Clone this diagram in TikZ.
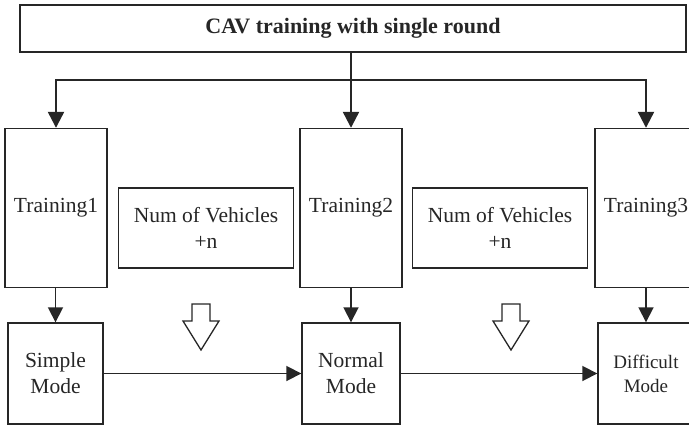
\documentclass[tikz,border=0pt]{standalone}
\usepackage{fontspec}
\setmainfont{Liberation Serif}
\usetikzlibrary{arrows.meta}
\definecolor{ink}{HTML}{262626}
\begin{document}
\begin{tikzpicture}[x=1pt,y=-1pt,
  box/.style={draw=ink, line width=1.4pt, fill=white, inner sep=0pt,
    align=center, text=ink, font=\fontsize{21.5}{26}\selectfont},
  tallbox/.style={box, minimum width=102pt, minimum height=159pt},
  numbox/.style={box, minimum width=175pt, minimum height=80pt},
  modebox/.style={box, minimum width=96pt, minimum height=101pt},
  topconn/.style={-{Triangle[length=16pt,width=16pt]}, line width=2.3pt, draw=ink},
  conn/.style={-{Triangle[length=15pt,width=15pt]}, line width=1.8pt, draw=ink},
  hollow/.style={draw=ink, line width=1.3pt, fill=white, line join=miter}
]
\useasboundingbox (0,0) rectangle (689,428);

% heading
\node[box, minimum width=666pt, minimum height=47pt,
  font=\bfseries\fontsize{22}{26}\selectfont] (title) at (353,28.5)
  {CAV training with single round};

% training stages
\node[tallbox] (t1) at (56,208) {Training1};
\node[tallbox] (t2) at (351,208) {Training2};
\node[tallbox] (t3) at (646,208) {Training3};

% vehicle increments
\node[numbox] (n1) at (206,228) {Num of Vehicles\\+n};
\node[numbox] (n2) at (500,228) {Num of Vehicles\\+n};

% driving modes
\node[modebox, minimum width=95pt] (m1) at (55.5,373.5) {Simple\\Mode};
\node[modebox, minimum width=98pt] (m2) at (351,373.5) {Normal\\Mode};
\node[modebox, font=\fontsize{19}{24}\selectfont] (m3) at (646,373.5) {Difficult\\Mode};

% distribution from the heading
\coordinate (split) at (351,80);
\draw[topconn] (title.south -| t2.north) -- (t2.north);
\draw[topconn] (split) -| (t1.north);
\draw[topconn] (split) -| (t3.north);

% stage to mode
\draw[conn] (t1.south -| m1.north) -- (m1.north);
\draw[conn] (t2.south) -- (m2.north);
\draw[conn] (t3.south) -- (m3.north);

% mode progression
\draw[conn] (m1.east) -- (m2.west);
\draw[conn] (m2.east) -- (m3.west);

% hollow down arrows
\foreach \cx in {201,511}{
  \draw[hollow] (\cx-9,304) -- (\cx+9,304) -- (\cx+9,321) -- (\cx+18,321)
    -- (\cx,350) -- (\cx-18,321) -- (\cx-9,321) -- cycle;
}
\end{tikzpicture}
\end{document}
